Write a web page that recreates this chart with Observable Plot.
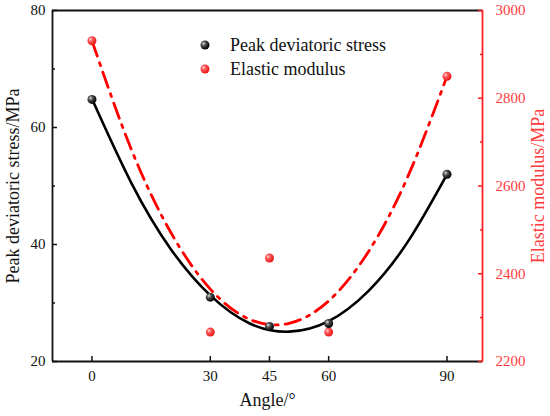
<!DOCTYPE html>
<html>
<head>
<meta charset="utf-8">
<script src="https://cdn.jsdelivr.net/npm/d3@7"></script>
<script src="https://cdn.jsdelivr.net/npm/@observablehq/plot@0.6"></script>
<style>
  body { margin: 0; background: #fff; }
  #chart { position: relative; width: 550px; height: 416px; }
  #legend { position: absolute; left: 199px; top: 33px; font-family: 'Liberation Serif', 'Times New Roman', serif; font-size: 18px; color: #111; line-height: 24px; }
  #legend .row { display: flex; align-items: center; height: 24px; }
  #legend span { font-family: 'Liberation Serif', 'Times New Roman', serif; }
  #legend svg { margin-right: 19px; }
</style>
</head>
<body>
<div id="chart"></div>
<script>
// ---- data ----
const angles = [0, 30, 45, 60, 90];
const peakStress = [64.8, 31.0, 26.0, 26.5, 52.0];          // MPa (left axis)
const elasticModulus = [2931, 2267, 2436, 2267, 2850];     // MPa (right axis)

// fitted curves
const fitAngles = [0, 10, 20, 30, 40, 50, 60, 70, 80, 90];
const stressFit = [64.9, 50.5, 39.2, 31.3, 26.5, 25.1, 26.9, 32.0, 40.4, 52.0];
const modulusFit = [2931, 2683, 2494, 2365, 2296, 2287, 2338, 2449, 2620, 2850];

const xTicks = [0, 30, 45, 60, 90];
const leftTicks = [20, 40, 60, 80];
const leftMinor = [30, 50, 70];
const rightTicks = [2200, 2400, 2600, 2800, 3000];
const rightMinor = [2300, 2500, 2700, 2900];

const seriesNames = ["Peak deviatoric stress", "Elastic modulus"];
const xLabel = "Angle/°";
const leftLabel = "Peak deviatoric stress/MPa";
const rightLabel = "Elastic modulus/MPa";

// ---- scales ----
const xDomain = [-10, 99];
const leftDomain = [20, 80];
const rightDomain = [2200, 3000];
const toLeft = v => leftDomain[0] + (v - rightDomain[0]) * (leftDomain[1] - leftDomain[0]) / (rightDomain[1] - rightDomain[0]);
const fromLeft = y => rightDomain[0] + (y - leftDomain[0]) * (rightDomain[1] - rightDomain[0]) / (leftDomain[1] - leftDomain[0]);

const RED = "#ff2020";
const RED_TEXT = "#ff3a3a";
const SERIF = "'Liberation Serif', 'Times New Roman', serif";

const pts = angles.map((a, i) => ({angle: a, stress: peakStress[i], modulus: toLeft(elasticModulus[i])}));
const fit = fitAngles.map((a, i) => ({angle: a, stress: stressFit[i], modulus: toLeft(modulusFit[i])}));

const svg = Plot.plot({
  width: 550,
  height: 416,
  marginLeft: 52,
  marginRight: 68,
  marginTop: 10,
  marginBottom: 55,
  style: {fontFamily: SERIF, fontSize: "15px", color: "#111", background: "#fff"},
  x: {domain: xDomain},
  y: {domain: leftDomain},
  marks: [
    // frame lines
    Plot.ruleY([leftDomain[1]], {stroke: "#111", strokeWidth: 1.8}),
    Plot.ruleY([leftDomain[0]], {stroke: "#111", strokeWidth: 1.8}),
    Plot.ruleX([xDomain[0]], {stroke: "#111", strokeWidth: 1.8}),
    Plot.ruleX([xDomain[1]], {stroke: RED, strokeWidth: 1.8}),
    // x axis
    Plot.axisX({ticks: xTicks, tickSize: -5, tickPadding: 14, tickFormat: d => String(d), label: null, stroke: "#111", strokeWidth: 1.5, fontSize: 15}),
    Plot.text([xLabel], {frameAnchor: "bottom", dy: 44, text: d => d, fontSize: 18, fill: "#111"}),
    // left axis
    Plot.axisY({ticks: leftTicks, tickSize: -5, tickPadding: 12, tickFormat: d => String(d), label: null, stroke: "#111", strokeWidth: 1.5, fontSize: 15}),
    Plot.axisY({ticks: leftMinor, tickSize: -3, tickFormat: () => "", label: null, stroke: "#111", strokeWidth: 1.5}),
    Plot.text([leftLabel], {frameAnchor: "left", textAnchor: "middle", dx: -39, rotate: -90, text: d => d, fontSize: 18, fill: "#111"}),
    // right axis (elastic modulus)
    Plot.axisY({anchor: "right", ticks: rightTicks.map(toLeft), tickSize: -5, tickPadding: 18, tickFormat: d => String(Math.round(fromLeft(d))), label: null, stroke: RED, fill: RED_TEXT, strokeWidth: 1.5, fontSize: 15}),
    Plot.axisY({anchor: "right", ticks: rightMinor.map(toLeft), tickSize: -3, tickFormat: () => "", label: null, stroke: RED, strokeWidth: 1.5}),
    Plot.text([rightLabel], {frameAnchor: "right", textAnchor: "middle", dx: 56, rotate: -90, text: d => d, fontSize: 18, fill: RED_TEXT}),
    // fitted curves
    Plot.line(fit, {x: "angle", y: "modulus", curve: "natural", stroke: "#ff0000", strokeWidth: 2.8, strokeDasharray: "16,7,3,7"}),
    Plot.line(fit, {x: "angle", y: "stress", curve: "natural", stroke: "#000", strokeWidth: 2.6}),
    // points
    Plot.dot(pts, {x: "angle", y: "modulus", r: 4.5, fill: "url(#gRed)", stroke: "none"}),
    Plot.dot(pts, {x: "angle", y: "stress", r: 4.5, fill: "url(#gBlack)", stroke: "none"})
  ]
});

function addGradients(svgEl) {
  const defs = d3.select(svgEl).insert("defs", ":first-child");
  const gb = defs.append("radialGradient").attr("id", "gBlack").attr("cx", "0.35").attr("cy", "0.35").attr("r", "0.65");
  gb.append("stop").attr("offset", "0").attr("stop-color", "#e8e8e8");
  gb.append("stop").attr("offset", "0.35").attr("stop-color", "#555");
  gb.append("stop").attr("offset", "1").attr("stop-color", "#000");
  const gr = defs.append("radialGradient").attr("id", "gRed").attr("cx", "0.35").attr("cy", "0.35").attr("r", "0.65");
  gr.append("stop").attr("offset", "0").attr("stop-color", "#ffe0e0");
  gr.append("stop").attr("offset", "0.35").attr("stop-color", "#ff5a5a");
  gr.append("stop").attr("offset", "1").attr("stop-color", "#e81818");
}
addGradients(svg);

const chart = document.getElementById("chart");
chart.appendChild(svg);

// legend
const legend = document.createElement("div");
legend.id = "legend";
seriesNames.forEach((name, i) => {
  const row = document.createElement("div");
  row.className = "row";
  row.innerHTML = `<svg width="12" height="12" viewBox="0 0 12 12"><circle cx="6" cy="6" r="4.5" fill="url(#${i === 0 ? "gBlack" : "gRed"})"/></svg><span>${name}</span>`;
  legend.appendChild(row);
});
chart.appendChild(legend);
</script>
</body>
</html>
